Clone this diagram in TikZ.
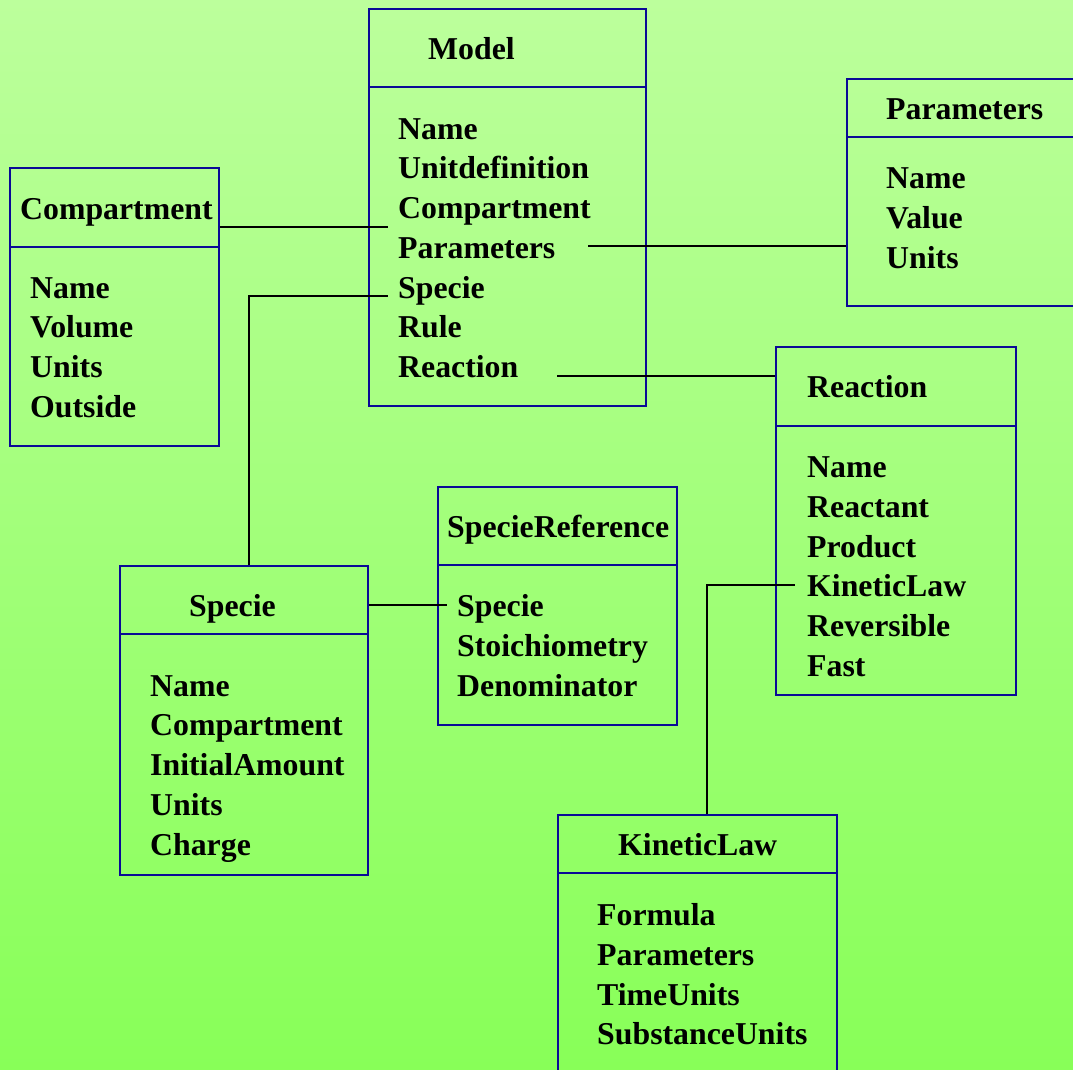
\documentclass[tikz,border=0pt]{standalone}
\usepackage{fontspec}
\setmainfont{Liberation Serif}
\definecolor{bgtop}{RGB}{188,255,156}
\definecolor{bgbot}{RGB}{136,255,88}
\definecolor{boxblue}{RGB}{10,10,150}
\begin{document}
\begin{tikzpicture}[x=1pt,y=-1pt,
  box/.style={draw=boxblue, line width=1.8pt, rectangle, anchor=north west, inner sep=0},
  divider/.style={draw=boxblue, line width=1.8pt},
  lab/.style={anchor=base west, inner sep=0, font=\fontsize{31.8}{38}\selectfont\bfseries},
  conn/.style={draw=black, line width=1.8pt}]
\useasboundingbox (0,0) rectangle (1073,1069);
\clip (0,0) rectangle (1073,1069);
\shade[top color=bgtop, bottom color=bgbot] (0,0) rectangle (1073,1069);

% boxes
\node[box, minimum width=277, minimum height=397] (modelbox) at (368,8) {};
\node[box, minimum width=227, minimum height=227] (parbox) at (846,78) {};
\node[box, minimum width=209, minimum height=278] (compbox) at (9,167) {};
\node[box, minimum width=240, minimum height=348] (reacbox) at (775,346) {};
\node[box, minimum width=239, minimum height=238] (srefbox) at (437,486) {};
\node[box, minimum width=248, minimum height=309] (specbox) at (119,565) {};
\node[box, minimum width=279, minimum height=300] (klbox) at (557,814) {};

% dividers
\draw[divider] (modelbox.west |- 0,87) -- (modelbox.east |- 0,87);
\draw[divider] (parbox.west |- 0,137) -- (parbox.east |- 0,137);
\draw[divider] (compbox.west |- 0,247) -- (compbox.east |- 0,247);
\draw[divider] (reacbox.west |- 0,426) -- (reacbox.east |- 0,426);
\draw[divider] (srefbox.west |- 0,565) -- (srefbox.east |- 0,565);
\draw[divider] (specbox.west |- 0,634) -- (specbox.east |- 0,634);
\draw[divider] (klbox.west |- 0,873) -- (klbox.east |- 0,873);

% Model
\node[lab] (m-title) at (428,59) {Model};
\node[lab] (m-name) at (398,139) {Name};
\node[lab] (m-unit) at (398,178) {Unitdefinition};
\node[lab] (m-comp) at (398,218) {Compartment};
\node[lab] (m-par) at (398,258) {Parameters};
\node[lab] (m-spec) at (398,298) {Specie};
\node[lab] (m-rule) at (398,337) {Rule};
\node[lab] (m-reac) at (398,377) {Reaction};

% Parameters
\node[lab] (p-title) at (886,119) {Parameters};
\node[lab] (p-name) at (886,188) {Name};
\node[lab] (p-value) at (886,228) {Value};
\node[lab] (p-units) at (886,268) {Units};

% Compartment
\node[lab] (c-title) at (20,219) {Compartment};
\node[lab] (c-name) at (30,298) {Name};
\node[lab] (c-vol) at (30,337) {Volume};
\node[lab] (c-units) at (30,377) {Units};
\node[lab] (c-out) at (30,417) {Outside};

% Reaction
\node[lab] (r-title) at (807,397) {Reaction};
\node[lab] (r-name) at (807,477) {Name};
\node[lab] (r-reac) at (807,517) {Reactant};
\node[lab] (r-prod) at (807,557) {Product};
\node[lab] (r-kl) at (807,596) {KineticLaw};
\node[lab] (r-rev) at (807,636) {Reversible};
\node[lab] (r-fast) at (807,676) {Fast};

% SpecieReference
\node[lab] (s-title) at (447,537) {SpecieReference};
\node[lab] (s-spec) at (457,616) {Specie};
\node[lab] (s-stoi) at (457,656) {Stoichiometry};
\node[lab] (s-den) at (457,696) {Denominator};

% Specie
\node[lab] (sp-title) at (189,616) {Specie};
\node[lab] (sp-name) at (150,696) {Name};
\node[lab] (sp-comp) at (150,735) {Compartment};
\node[lab] (sp-init) at (150,775) {InitialAmount};
\node[lab] (sp-units) at (150,815) {Units};
\node[lab] (sp-charge) at (150,855) {Charge};

% KineticLaw
\node[lab] (k-title) at (618,855) {KineticLaw};
\node[lab] (k-form) at (597,925) {Formula};
\node[lab] (k-par) at (597,965) {Parameters};
\node[lab] (k-time) at (597,1005) {TimeUnits};
\node[lab] (k-sub) at (597,1044) {SubstanceUnits};

% connector ends
\coordinate (e1) at (388,227);
\coordinate (e2) at (388,296);
\coordinate (e3) at (588,246);
\coordinate (e4) at (557,376);
\coordinate (e5) at (447,605);
\coordinate (e6) at (795,585);

\draw[conn] (compbox.east |- e1) -- (e1);
\draw[conn] ([xshift=5]specbox.north) -- ([xshift=5]specbox.north |- e2) -- (e2);
\draw[conn] (e3) -- (parbox.west |- e3);
\draw[conn] (e4) -- (reacbox.west |- e4);
\draw[conn] (specbox.east |- e5) -- (e5);
\draw[conn] ([xshift=9.5]klbox.north) -- ([xshift=9.5]klbox.north |- e6) -- (e6);
\end{tikzpicture}
\end{document}
